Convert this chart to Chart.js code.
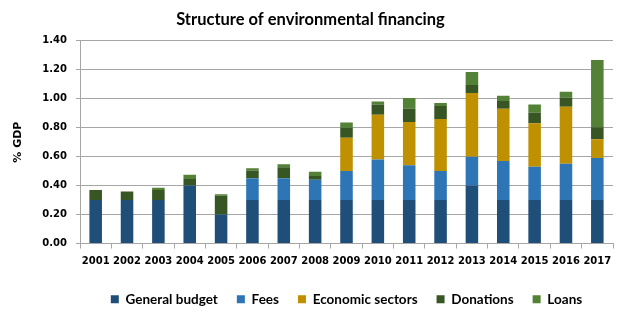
<!DOCTYPE html>
<html>
<head>
<meta charset="utf-8">
<script src="https://cdn.jsdelivr.net/npm/chart.js@4"></script>
<style>
  html, body { margin: 0; padding: 0; background: #fff; }
</style>
</head>
<body>
<canvas id="chart" width="624" height="321"></canvas>
<script>
const years = ["2001", "2002", "2003", "2004", "2005", "2006", "2007", "2008", "2009",
  "2010", "2011", "2012", "2013", "2014", "2015", "2016", "2017"];

// % of GDP
const generalBudget = [0.30, 0.30, 0.30, 0.40, 0.20, 0.30, 0.30, 0.30, 0.30, 0.30, 0.30, 0.30, 0.40, 0.30, 0.30, 0.30, 0.30];
const fees = [0, 0, 0, 0, 0, 0.15, 0.15, 0.14, 0.20, 0.28, 0.24, 0.20, 0.20, 0.27, 0.23, 0.25, 0.29];
const economicSectors = [0, 0, 0, 0, 0, 0, 0, 0, 0.23, 0.31, 0.30, 0.36, 0.44, 0.36, 0.30, 0.395, 0.13];
const donations = [0.07, 0.06, 0.07, 0.045, 0.13, 0.055, 0.077, 0.027, 0.07, 0.07, 0.09, 0.09, 0.055, 0.055, 0.075, 0.063, 0.083];
const loans = [0, 0, 0.015, 0.03, 0.01, 0.015, 0.02, 0.028, 0.035, 0.02, 0.075, 0.02, 0.09, 0.035, 0.055, 0.04, 0.465];

const yTicks = [0, 0.2, 0.4, 0.6, 0.8, 1.0, 1.2, 1.4];

const gridColor = "#a6a6a6";
const tickFont = { family: "DejaVu Sans", weight: "bold", size: 10 };

function series(label, data, color) {
  return {
    label: label,
    data: data,
    backgroundColor: color,
    borderWidth: 0,
    barPercentage: 0.4,
    categoryPercentage: 1.0,
  };
}

new Chart(document.getElementById("chart"), {
  type: "bar",
  data: {
    labels: years,
    datasets: [
      series("General budget", generalBudget, "#1f4e79"),
      series("Fees", fees, "#2e75b6"),
      series("Economic sectors", economicSectors, "#bf9000"),
      series("Donations", donations, "#375623"),
      series("Loans", loans, "#538135"),
    ],
  },
  options: {
    responsive: false,
    animation: false,
    layout: { padding: { left: 8, right: 11, top: 8, bottom: 5 } },
    plugins: {
      title: {
        display: true,
        text: "Structure of environmental financing",
        color: "#000",
        font: { family: "Lato", weight: "bold", size: 16.5 },
        padding: { top: 2, bottom: 11 },
      },
      legend: {
        position: "bottom",
        fullSize: false,
        labels: {
          color: "#000",
          font: { family: "Lato", weight: "bold", size: 13.5 },
          boxWidth: 8,
          boxHeight: 8,
          padding: 19,
        },
      },
      tooltip: { enabled: false },
    },
    scales: {
      x: {
        stacked: true,
        afterFit: (axis) => { axis.height = 30; },
        grid: {
          drawOnChartArea: false,
          color: gridColor,
          tickLength: 5,
        },
        border: { color: gridColor },
        ticks: {
          color: "#000",
          font: tickFont,
          maxRotation: 0,
          autoSkip: false,
          padding: 7,
        },
      },
      y: {
        stacked: true,
        min: 0,
        max: 1.4,
        afterFit: (axis) => { axis.width = 72; },
        afterBuildTicks: (axis) => {
          axis.ticks = yTicks.map((v) => ({ value: v }));
        },
        grid: { color: gridColor, tickLength: 4 },
        border: { color: gridColor },
        ticks: {
          color: "#000",
          font: tickFont,
          padding: 9,
          callback: (v) => Number(v).toFixed(2),
        },
        title: {
          display: true,
          text: "% GDP",
          color: "#000",
          font: { family: "DejaVu Sans", weight: "bold", size: 11 },
          padding: { top: 4, bottom: 0 },
        },
      },
    },
  },
});
</script>
</body>
</html>
